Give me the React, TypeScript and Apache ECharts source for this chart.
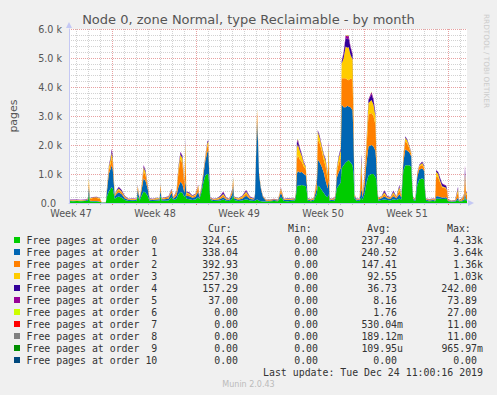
import React, { useEffect, useRef } from "react";
import * as echarts from "echarts";

// Time base: 2-hour RRD slots counted from the left edge of the month graph (400 slots).
const slots = [
  0, 4, 8, 12, 16, 19, 20, 21, 24, 28,
  31, 33, 37, 38, 40, 42, 43, 44, 46, 48,
  50, 53, 56, 60, 64, 68, 69, 71, 73, 75,
  77, 79, 81, 84, 88, 91, 92, 93, 96, 100,
  103, 105, 108, 110, 112, 114, 116, 117, 118, 121,
  124, 127, 130, 131, 133, 135, 137, 139, 140, 141,
  142, 145, 149, 152, 155, 158, 161, 164, 165, 166,
  170, 174, 178, 182, 186, 187, 188, 189, 190, 191,
  193, 195, 198, 202, 206, 210, 213, 216, 220, 224,
  227, 228, 229, 230, 232, 234, 236, 238, 239, 240,
  243, 246, 249, 250, 252, 254, 256, 258, 260, 261,
  262, 264, 267, 268, 269, 271, 273, 274, 276, 278,
  280, 281, 283, 285, 286, 287, 289, 292, 294, 295,
  297, 299, 301, 304, 306, 308, 309, 310, 311, 314,
  317, 320, 323, 326, 329, 332, 334, 336, 338, 340,
  342, 344, 345, 346, 348, 350, 352, 355, 357, 358,
  359, 362, 366, 368, 369, 371, 373, 375, 377, 379,
  380, 381, 384, 388, 391, 392, 395, 397, 398, 399,
  400,
];

const order0 = [
  70, 60, 70, 60, 70, 80, 300, 60, 50, 50,
  40, 10, 20, 200, 400, 500, 550, 500, 150, 200,
  220, 180, 100, 70, 80, 70, 250, 90, 250, 400,
  350, 250, 80, 70, 80, 90, 250, 90, 80, 90,
  200, 100, 150, 300, 380, 350, 200, 300, 150, 130,
  100, 120, 200, 130, 350, 700, 950, 1000, 1000, 600,
  100, 70, 80, 90, 120, 80, 70, 150, 300, 100,
  70, 90, 130, 90, 70, 80, 100, 120, 100, 80,
  60, 50, 50, 60, 70, 60, 200, 70, 60, 80,
  90, 200, 550, 600, 600, 620, 600, 580, 400, 80,
  60, 80, 300, 600, 550, 450, 350, 250, 200, 300,
  80, 70, 80, 200, 500, 600, 700, 1200, 1300, 1400,
  1450, 1480, 1400, 1300, 1000, 150, 80, 70, 200, 100,
  300, 700, 950, 1000, 1000, 900, 800, 300, 80, 100,
  120, 100, 90, 130, 100, 150, 120, 1100, 1300, 1300,
  1300, 1250, 500, 100, 70, 600, 800, 850, 800, 300,
  70, 60, 70, 60, 150, 150, 150, 140, 140, 150,
  130, 60, 40, 50, 100, 50, 60, 80, 200, 80,
  80,
];

const order1 = [
  20, 15, 10, 20, 15, 30, 250, 20, 20, 15,
  10, 5, 5, 150, 600, 700, 750, 650, 80, 120,
  150, 120, 60, 30, 20, 30, 200, 40, 200, 450,
  400, 250, 40, 30, 40, 40, 200, 40, 50, 60,
  150, 50, 100, 250, 350, 300, 150, 500, 100, 100,
  80, 90, 200, 60, 100, 250, 500, 750, 800, 400,
  50, 30, 30, 50, 80, 40, 30, 150, 300, 60,
  40, 60, 120, 50, 50, 200, 1500, 2700, 2000, 900,
  400, 150, 30, 20, 30, 25, 150, 30, 40, 30,
  40, 100, 450, 500, 450, 450, 400, 380, 250, 40,
  30, 40, 200, 900, 850, 800, 700, 500, 300, 500,
  40, 30, 50, 100, 350, 450, 500, 2200, 2000, 1900,
  1900, 1850, 1900, 1900, 1200, 80, 30, 30, 300, 100,
  300, 700, 1000, 1000, 950, 900, 500, 100, 40, 60,
  100, 60, 50, 100, 60, 150, 80, 300, 550, 500,
  450, 350, 150, 50, 40, 300, 350, 350, 300, 100,
  40, 30, 30, 30, 80, 80, 60, 50, 50, 50,
  40, 30, 20, 20, 80, 20, 30, 40, 200, 50,
  50,
];

const order2 = [
  15, 20, 15, 10, 15, 20, 200, 60, 100, 110,
  90, 5, 5, 50, 120, 200, 250, 200, 40, 60,
  80, 60, 40, 20, 30, 20, 100, 20, 100, 250,
  200, 80, 20, 20, 30, 20, 150, 20, 30, 40,
  80, 30, 100, 500, 800, 700, 250, 900, 80, 60,
  40, 50, 150, 40, 50, 80, 100, 200, 220, 100,
  20, 20, 30, 40, 60, 30, 20, 100, 180, 30,
  30, 40, 80, 30, 20, 30, 200, 350, 150, 60,
  30, 20, 20, 20, 20, 15, 100, 20, 30, 20,
  20, 50, 500, 550, 450, 350, 250, 200, 100, 20,
  20, 30, 200, 700, 650, 550, 450, 500, 300, 800,
  20, 20, 30, 50, 200, 300, 350, 900, 1000, 1000,
  900, 900, 1000, 1050, 600, 40, 20, 20, 700, 100,
  200, 500, 1100, 1100, 1050, 900, 300, 50, 40, 40,
  80, 30, 30, 80, 30, 150, 40, 150, 300, 250,
  150, 80, 50, 20, 20, 80, 100, 120, 100, 40,
  20, 20, 30, 30, 700, 650, 500, 350, 330, 300,
  250, 20, 10, 10, 200, 10, 40, 150, 400, 200,
  150,
];

const order3 = [
  5, 10, 5, 10, 5, 10, 100, 20, 20, 25,
  20, 0, 5, 50, 100, 150, 180, 150, 20, 40,
  50, 40, 20, 10, 15, 10, 40, 10, 50, 120,
  100, 40, 10, 10, 20, 10, 50, 10, 20, 20,
  30, 20, 40, 150, 150, 180, 80, 400, 40, 40,
  20, 30, 50, 20, 20, 30, 40, 100, 100, 40,
  10, 10, 20, 30, 50, 20, 10, 40, 80, 20,
  20, 30, 60, 20, 10, 10, 50, 60, 40, 20,
  10, 10, 10, 10, 10, 10, 50, 10, 20, 10,
  10, 20, 400, 380, 300, 200, 120, 80, 40, 10,
  10, 20, 80, 250, 200, 150, 150, 200, 150, 400,
  10, 10, 20, 20, 100, 200, 250, 500, 700, 1100,
  1100, 1150, 800, 700, 300, 20, 10, 10, 300, 40,
  100, 200, 400, 450, 400, 300, 100, 20, 20, 20,
  60, 20, 20, 60, 20, 100, 20, 50, 100, 100,
  60, 40, 20, 10, 10, 30, 40, 60, 50, 20,
  10, 10, 10, 10, 150, 120, 60, 40, 30, 30,
  20, 10, 5, 5, 100, 10, 20, 30, 200, 50,
  50,
];

const order4 = [
  10, 10, 15, 5, 10, 10, 30, 10, 10, 10,
  10, 0, 0, 20, 40, 60, 100, 80, 10, 30,
  40, 40, 20, 10, 10, 10, 20, 10, 20, 60,
  50, 30, 10, 10, 10, 10, 20, 10, 10, 15,
  20, 10, 20, 50, 60, 80, 40, 100, 20, 30,
  20, 20, 20, 10, 10, 20, 20, 50, 40, 20,
  10, 10, 10, 30, 60, 20, 10, 20, 30, 10,
  10, 20, 40, 20, 10, 10, 20, 20, 10, 10,
  10, 10, 10, 10, 10, 10, 20, 10, 10, 10,
  10, 10, 150, 120, 80, 50, 30, 20, 10, 10,
  10, 10, 30, 50, 50, 30, 30, 50, 40, 100,
  10, 10, 10, 10, 20, 50, 60, 80, 150, 300,
  300, 300, 250, 150, 100, 10, 10, 10, 150, 20,
  50, 50, 100, 200, 150, 80, 30, 10, 10, 10,
  60, 20, 10, 40, 10, 50, 10, 20, 40, 30,
  20, 20, 10, 10, 10, 20, 20, 40, 30, 10,
  10, 10, 10, 10, 50, 60, 80, 80, 70, 60,
  40, 10, 10, 10, 60, 10, 10, 10, 200, 20,
  20,
];

const order5 = [
  5, 5, 5, 5, 5, 5, 20, 5, 5, 5,
  5, 0, 0, 10, 20, 20, 40, 30, 5, 10,
  20, 10, 10, 5, 5, 5, 10, 5, 10, 30,
  20, 10, 5, 5, 5, 5, 10, 5, 5, 5,
  10, 5, 10, 20, 30, 30, 20, 50, 10, 10,
  10, 10, 10, 5, 5, 10, 10, 20, 10, 10,
  5, 5, 5, 10, 30, 10, 5, 10, 10, 5,
  5, 10, 20, 10, 5, 5, 10, 10, 5, 5,
  5, 5, 5, 5, 5, 5, 10, 5, 5, 5,
  5, 5, 50, 50, 30, 20, 20, 10, 5, 5,
  5, 5, 10, 20, 20, 20, 20, 20, 10, 50,
  5, 5, 5, 5, 10, 20, 20, 20, 50, 80,
  100, 100, 50, 50, 20, 5, 5, 5, 50, 10,
  10, 20, 30, 80, 50, 20, 10, 5, 5, 5,
  20, 10, 5, 20, 5, 20, 5, 10, 10, 10,
  10, 10, 5, 5, 5, 10, 10, 10, 10, 5,
  5, 5, 5, 5, 10, 20, 20, 20, 20, 20,
  10, 5, 5, 5, 20, 5, 5, 5, 100, 10,
  10,
];

const order6 = [
  0, 0, 0, 0, 0, 0, 0, 0, 0, 0,
  0, 0, 0, 0, 0, 0, 0, 0, 0, 0,
  0, 0, 0, 0, 0, 0, 0, 0, 0, 0,
  0, 0, 0, 0, 0, 0, 0, 0, 0, 0,
  0, 0, 0, 0, 0, 0, 0, 0, 0, 0,
  0, 0, 0, 0, 0, 0, 0, 0, 0, 0,
  0, 0, 0, 0, 0, 0, 0, 0, 0, 0,
  0, 0, 0, 0, 0, 0, 0, 0, 0, 0,
  0, 0, 0, 0, 0, 0, 0, 0, 0, 0,
  0, 0, 0, 20, 0, 0, 0, 0, 0, 0,
  0, 0, 0, 0, 0, 0, 0, 0, 0, 0,
  0, 0, 0, 0, 0, 0, 0, 0, 0, 0,
  27, 0, 0, 0, 0, 0, 0, 0, 0, 0,
  0, 0, 0, 15, 0, 0, 0, 0, 0, 0,
  0, 0, 0, 0, 0, 0, 0, 0, 0, 0,
  0, 0, 0, 0, 0, 0, 0, 0, 0, 0,
  0, 0, 0, 0, 0, 0, 0, 0, 0, 0,
  0, 0, 0, 0, 0, 0, 0, 0, 0, 0,
  0,
];

const order7 = [
  0, 0, 0, 0, 0, 0, 0, 0, 0, 0,
  0, 0, 0, 0, 0, 0, 0, 0, 0, 0,
  0, 0, 0, 0, 0, 0, 0, 0, 0, 0,
  0, 0, 0, 0, 0, 0, 0, 0, 0, 0,
  0, 0, 0, 0, 0, 0, 0, 0, 0, 0,
  0, 0, 0, 0, 0, 0, 0, 0, 0, 0,
  0, 0, 0, 0, 0, 0, 0, 0, 0, 0,
  0, 0, 0, 0, 0, 0, 0, 0, 0, 0,
  0, 0, 0, 0, 0, 0, 0, 0, 0, 0,
  0, 0, 0, 0, 0, 0, 0, 0, 0, 0,
  0, 0, 0, 0, 0, 0, 0, 0, 0, 0,
  0, 0, 0, 0, 0, 0, 0, 0, 0, 0,
  11, 0, 0, 0, 0, 0, 0, 0, 0, 0,
  0, 0, 0, 0, 0, 0, 0, 0, 0, 0,
  0, 0, 0, 0, 0, 0, 0, 0, 0, 0,
  0, 0, 0, 0, 0, 0, 0, 0, 0, 0,
  0, 0, 0, 0, 0, 0, 0, 0, 0, 0,
  0, 0, 0, 0, 0, 0, 0, 0, 0, 0,
  0,
];

const order8 = [
  0, 0, 0, 0, 0, 0, 0, 0, 0, 0,
  0, 0, 0, 0, 0, 0, 0, 0, 0, 0,
  0, 0, 0, 0, 0, 0, 0, 0, 0, 0,
  0, 0, 0, 0, 0, 0, 0, 0, 0, 0,
  0, 0, 0, 0, 0, 0, 0, 0, 0, 0,
  0, 0, 0, 0, 0, 0, 0, 0, 0, 0,
  0, 0, 0, 0, 0, 0, 0, 0, 0, 0,
  0, 0, 0, 0, 0, 0, 0, 0, 0, 0,
  0, 0, 0, 0, 0, 0, 0, 0, 0, 0,
  0, 0, 0, 0, 0, 0, 0, 0, 0, 0,
  0, 0, 0, 0, 0, 0, 0, 0, 0, 0,
  0, 0, 0, 0, 0, 0, 0, 0, 0, 0,
  0, 0, 0, 0, 0, 0, 0, 0, 11, 0,
  0, 0, 0, 0, 0, 0, 0, 0, 0, 0,
  0, 0, 0, 0, 0, 0, 0, 0, 0, 0,
  0, 0, 0, 0, 0, 0, 0, 0, 0, 0,
  0, 0, 0, 0, 0, 0, 0, 0, 0, 0,
  0, 0, 0, 0, 0, 0, 0, 0, 0, 0,
  0,
];

const order9 = [
  0, 0, 0, 0, 0, 0, 0, 0, 0, 0,
  0, 0, 0, 0, 0, 0, 0, 0, 0, 0,
  0, 0, 0, 0, 0, 0, 0, 0, 0, 0,
  0, 0, 0, 0, 0, 0, 0, 0, 0, 0,
  0, 0, 0, 0, 0, 0, 0, 0, 0, 0,
  0, 0, 0, 0, 0, 0, 0, 0, 0, 0,
  0, 0, 0, 0, 0, 0, 0, 0, 0, 0,
  0, 0, 0, 0, 0, 0, 0, 0, 0, 0,
  0, 0, 0, 0, 0, 0, 0, 0, 0, 0,
  0, 0, 0, 0, 0, 0, 0, 0, 0, 0,
  0, 0, 0, 0, 0, 0, 0, 0, 0, 0,
  0, 0, 0, 0, 0, 0, 0, 0, 0, 0,
  0, 1, 0, 0, 0, 0, 0, 0, 0, 0,
  0, 0, 0, 0, 0, 0, 0, 0, 0, 0,
  0, 0, 0, 0, 0, 0, 0, 0, 0, 0,
  0, 0, 0, 0, 0, 0, 0, 0, 0, 0,
  0, 0, 0, 0, 0, 0, 0, 0, 0, 0,
  0, 0, 0, 0, 0, 0, 0, 0, 0, 0,
  0,
];

const order10 = [
  0, 0, 0, 0, 0, 0, 0, 0, 0, 0,
  0, 0, 0, 0, 0, 0, 0, 0, 0, 0,
  0, 0, 0, 0, 0, 0, 0, 0, 0, 0,
  0, 0, 0, 0, 0, 0, 0, 0, 0, 0,
  0, 0, 0, 0, 0, 0, 0, 0, 0, 0,
  0, 0, 0, 0, 0, 0, 0, 0, 0, 0,
  0, 0, 0, 0, 0, 0, 0, 0, 0, 0,
  0, 0, 0, 0, 0, 0, 0, 0, 0, 0,
  0, 0, 0, 0, 0, 0, 0, 0, 0, 0,
  0, 0, 0, 0, 0, 0, 0, 0, 0, 0,
  0, 0, 0, 0, 0, 0, 0, 0, 0, 0,
  0, 0, 0, 0, 0, 0, 0, 0, 0, 0,
  0, 0, 0, 0, 0, 0, 0, 0, 0, 0,
  0, 0, 0, 0, 0, 0, 0, 0, 0, 0,
  0, 0, 0, 0, 0, 0, 0, 0, 0, 0,
  0, 0, 0, 0, 0, 0, 0, 0, 0, 0,
  0, 0, 0, 0, 0, 0, 0, 0, 0, 0,
  0, 0, 0, 0, 0, 0, 0, 0, 0, 0,
  0,
];

const seriesNames = [
  "Free pages at order  0",
  "Free pages at order  1",
  "Free pages at order  2",
  "Free pages at order  3",
  "Free pages at order  4",
  "Free pages at order  5",
  "Free pages at order  6",
  "Free pages at order  7",
  "Free pages at order  8",
  "Free pages at order  9",
  "Free pages at order 10",
];

const seriesColors = [
  "#00cc00", "#0066b3", "#ff8000", "#ffcc00", "#330099", "#990099",
  "#ccff00", "#ff0000", "#808080", "#008f00", "#00487d",
];

const curValues = ["324.65", "338.04", "392.93", "257.30", "157.29", "37.00", "0.00", "0.00", "0.00", "0.00", "0.00"];
const minValues = ["0.00", "0.00", "0.00", "0.00", "0.00", "0.00", "0.00", "0.00", "0.00", "0.00", "0.00"];
const avgValues = ["237.40", "240.52", "147.41", "92.55", "36.73", "8.16", "1.76", "530.04m", "189.12m", "109.95u", "0.00"];
const maxValues = ["4.33k", "3.64k", "1.36k", "1.03k", "242.00", "73.89", "27.00", "11.00", "11.00", "965.97m", "0.00"];
const columnHeaders = ["Cur:", "Min:", "Avg:", "Max:"];

const weekLabels = ["Week 47", "Week 48", "Week 49", "Week 50", "Week 51"];
const yTickLabels = ["0.0", "1.0 k", "2.0 k", "3.0 k", "4.0 k", "5.0 k", "6.0 k"];

const titleText = "Node 0, zone Normal, type Reclaimable - by month";
const lastUpdate = "Last update: Tue Dec 24 11:00:16 2019";
const footer = "Munin 2.0.43";
const sideText = "RRDTOOL / TOBI OETIKER";

const SLOT_MS = 2 * 3600 * 1000;
const SLOT_COUNT = 400;

const SANS = '"DejaVu Sans", sans-serif';
const MONO = '"DejaVu Sans Mono", monospace';
const AXIS_TEXT = "#555555";
const LEGEND_TEXT = "#333333";
const AXIS_LINE = "#c4c8f4";
const MAJOR = "#e8a0a0";
const MINOR = "#d2d2d2";

export default function App() {
  const ref = useRef<HTMLDivElement | null>(null);

  useEffect(() => {
    if (!ref.current) return;
    const chart = echarts.init(ref.current, undefined, { renderer: "svg" });

    const orders = [order0, order1, order2, order3, order4, order5, order6, order7, order8, order9, order10];
    const columns = [curValues, minValues, avgValues, maxValues];
    const colEnds = [238, 318, 397, 477];
    const headerX = [208, 288, 367, 447];
    const row0 = 240;
    const rowH = 12;

    const graphics: any[] = [];
    columnHeaders.forEach((h, c) => {
      graphics.push({
        type: "text", x: headerX[c], y: 228, silent: true,
        style: { text: h, fill: LEGEND_TEXT, font: `9.9px ${MONO}`, textAlign: "left", textVerticalAlign: "middle" },
      });
    });
    seriesNames.forEach((name, k) => {
      const y = row0 + k * rowH;
      graphics.push({
        type: "rect", silent: true,
        shape: { x: 14, y: y - 3, width: 6, height: 6 },
        style: { fill: seriesColors[k] },
      });
      graphics.push({
        type: "text", x: 26.5, y, silent: true,
        style: { text: name, fill: LEGEND_TEXT, font: `9.9px ${MONO}`, textAlign: "left", textVerticalAlign: "middle" },
      });
      columns.forEach((col, c) => {
        const s = col[k];
        const hasUnit = /[a-zA-Z]$/.test(s);
        graphics.push({
          type: "text", x: colEnds[c] + (hasUnit ? 6 : 0), y, silent: true,
          style: { text: s, fill: LEGEND_TEXT, font: `9.9px ${MONO}`, textAlign: "right", textVerticalAlign: "middle" },
        });
      });
    });
    graphics.push({
      type: "text", x: 483, y: 372, silent: true,
      style: { text: lastUpdate, fill: LEGEND_TEXT, font: `9.9px ${MONO}`, textAlign: "right", textVerticalAlign: "middle" },
    });
    graphics.push({
      type: "text", x: 248.5, y: 384.5, silent: true,
      style: { text: footer, fill: "#bbbbbb", font: `8px ${SANS}`, textAlign: "center", textVerticalAlign: "middle" },
    });
    graphics.push({
      type: "text", x: 486, y: 14, rotation: -Math.PI / 2, silent: true,
      style: { text: sideText, fill: "#cccccc", font: `7.3px ${SANS}`, textAlign: "left", textVerticalAlign: "middle" },
    });

    const hidden = { show: false };

    const option: any = {
      animation: false,
      backgroundColor: "#f0f0f0",
      title: {
        text: titleText,
        left: "center",
        top: 13,
        padding: 0,
        textStyle: { fontFamily: SANS, fontSize: 13, fontWeight: "normal", color: AXIS_TEXT },
      },
      grid: [
        { left: 67, top: 29, width: 400, height: 174, show: true, backgroundColor: "#ffffff", borderWidth: 0 },
        { left: 76, top: 29, width: 384, height: 174 },
        { left: 112, top: 29, width: 336, height: 174 },
        { left: 29, top: 29, width: 420, height: 174 },
      ],
      xAxis: [
        {
          gridIndex: 0, type: "time", min: 0, max: SLOT_COUNT * SLOT_MS, z: 3,
          axisLine: {
            show: true, onZero: false,
            lineStyle: { color: AXIS_LINE, width: 1 },
            symbol: ["none", "triangle"], symbolSize: [6, 6], symbolOffset: [0, 4],
          },
          axisTick: hidden, axisLabel: hidden, splitLine: hidden, minorTick: hidden, minorSplitLine: hidden,
        },
        {
          gridIndex: 1, type: "value", min: 0, max: 384, interval: 12,
          axisLine: hidden, axisLabel: hidden,
          axisTick: { show: true, length: 2, lineStyle: { color: "#c0c0c0" } },
          splitLine: {
            show: true,
            lineStyle: { color: [MINOR, MINOR, MINOR, MAJOR, MINOR, MINOR, MINOR], type: "dotted", width: 1 },
          },
        },
        {
          gridIndex: 2, type: "value", min: 0, max: 336, interval: 84,
          axisLine: hidden, axisLabel: hidden, splitLine: hidden,
          axisTick: { show: true, length: 2, lineStyle: { color: "#e07070" } },
        },
        {
          gridIndex: 3, type: "category", data: weekLabels, boundaryGap: true,
          axisLine: hidden, axisTick: hidden, splitLine: hidden,
          axisLabel: { interval: 0, margin: 5, lineHeight: 10, color: AXIS_TEXT, fontFamily: SANS, fontSize: 9.6 },
        },
      ],
      yAxis: [
        {
          gridIndex: 0, type: "value", min: 0, max: 6000, interval: 200,
          axisLine: hidden, axisTick: hidden, axisLabel: hidden,
          splitLine: {
            show: true,
            lineStyle: { color: [MAJOR, MINOR, MINOR, MINOR, MINOR], type: "dotted", width: 1 },
          },
        },
        {
          gridIndex: 0, type: "value", min: 0, max: 6000, interval: 1000, position: "left", z: 3,
          name: "pages", nameLocation: "middle", nameGap: 50,
          nameTextStyle: { fontFamily: SANS, fontSize: 11, color: AXIS_TEXT },
          axisLine: {
            show: true, onZero: false,
            lineStyle: { color: AXIS_LINE, width: 1 },
            symbol: ["none", "triangle"], symbolSize: [6, 6], symbolOffset: [0, 4],
          },
          axisTick: hidden, splitLine: hidden,
          axisLabel: {
            margin: 7, lineHeight: 9, color: AXIS_TEXT, fontFamily: SANS, fontSize: 9.6,
            formatter: (v: number) => {
              const t = yTickLabels[Math.round(v / 1000)] ?? "";
              return t.indexOf(" ") < 0 ? `{n|${t}}` : t;
            },
            rich: { n: { padding: [0, 6, 0, 0], fontFamily: SANS, fontSize: 9.6, color: AXIS_TEXT, lineHeight: 9 } },
          },
        },
        { gridIndex: 1, type: "value", show: false },
        { gridIndex: 2, type: "value", show: false },
        { gridIndex: 3, type: "value", show: false },
      ],
      series: orders.map((vals, k) => ({
        type: "line",
        name: seriesNames[k],
        stack: "pages",
        xAxisIndex: 0,
        yAxisIndex: 0,
        data: slots.map((s, i) => [s * SLOT_MS, vals[i]]),
        symbol: "none",
        showSymbol: false,
        smooth: false,
        silent: true,
        z: 2,
        lineStyle: { width: 0, color: seriesColors[k] },
        itemStyle: { color: seriesColors[k] },
        areaStyle: { color: seriesColors[k], opacity: 1 },
        emphasis: { disabled: true },
      })),
      graphic: graphics,
    };

    chart.setOption(option);
    return () => chart.dispose();
  }, []);

  return (
    <div
      ref={ref}
      style={{ position: "absolute", left: 0, top: 0, width: 497, height: 395, background: "#f0f0f0" }}
    />
  );
}
